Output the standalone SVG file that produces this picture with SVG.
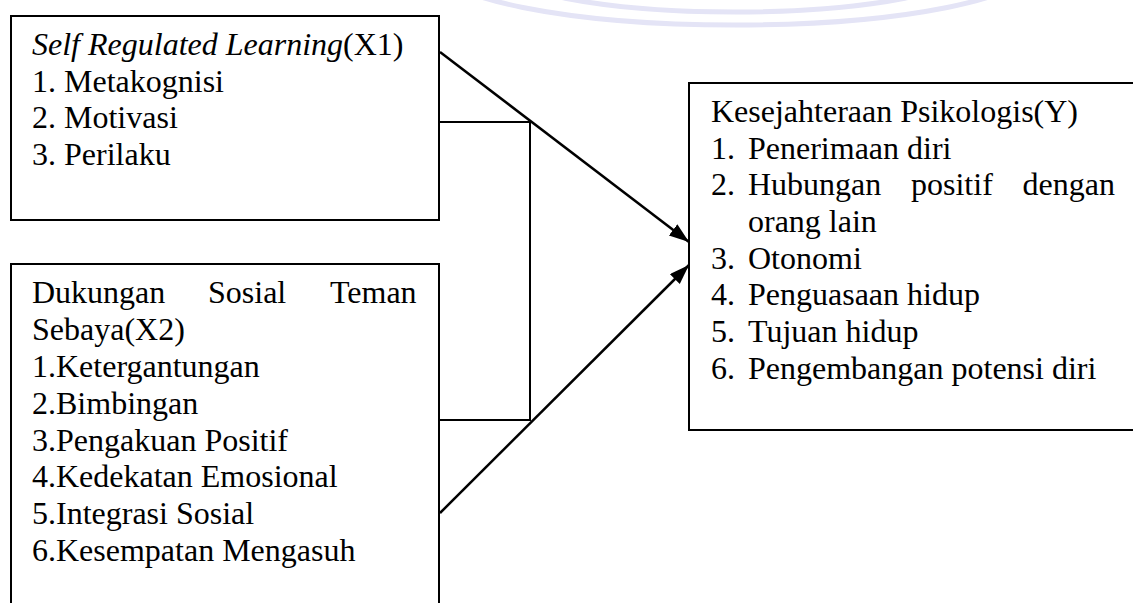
<svg xmlns="http://www.w3.org/2000/svg" width="1133" height="603" viewBox="0 0 1133 603">
  <style>
    .box { fill: #ffffff; stroke: #000000; stroke-width: 2; }
    .t { font-size: 32px; fill: #000000; }
    .it { font-style: italic; }
    .conn { fill: none; stroke: #000000; stroke-width: 2.5; }
    .brk { fill: none; stroke: #000000; stroke-width: 2; }
    .wm { fill: none; stroke: #e4e4f6; stroke-width: 5; }
  </style>
  <defs>
    <marker id="arrow" markerUnits="userSpaceOnUse" markerWidth="22" markerHeight="16" refX="20" refY="7" orient="auto">
      <path d="M0,0 L20,7 L0,14 Z" fill="#000000"/>
    </marker>
  </defs>
  <rect width="1133" height="603" fill="#ffffff"/>
  <g id="watermark">
    <ellipse class="wm" cx="735" cy="-35" rx="300" ry="60"/>
    <ellipse class="wm" cx="735" cy="-35" rx="240" ry="47" stroke-width="4"/>
  </g>
  <g font-family="Liberation Serif, Times New Roman, DejaVu Serif, serif">
  <g id="node-x1">
    <rect class="box" x="11" y="16" width="428" height="204"/>
    <text class="t" x="32" y="55"><tspan class="it">Self Regulated Learning</tspan>(X1)</text>
    <text class="t" x="32" y="92">1. Metakognisi</text>
    <text class="t" x="32" y="128">2. Motivasi</text>
    <text class="t" x="32" y="165">3. Perilaku</text>
  </g>
  <g id="node-x2">
    <rect class="box" x="11" y="264" width="428" height="360"/>
    <text class="t" x="32" y="303">Dukungan</text>
    <text class="t" x="208" y="303">Sosial</text>
    <text class="t" x="330" y="303">Teman</text>
    <text class="t" x="32" y="340">Sebaya(X2)</text>
    <text class="t" x="32" y="377">1.Ketergantungan</text>
    <text class="t" x="32" y="414">2.Bimbingan</text>
    <text class="t" x="32" y="451">3.Pengakuan Positif</text>
    <text class="t" x="32" y="487">4.Kedekatan Emosional</text>
    <text class="t" x="32" y="524">5.Integrasi Sosial</text>
    <text class="t" x="32" y="561">6.Kesempatan Mengasuh</text>
  </g>
  <g id="node-y">
    <rect class="box" x="689" y="83" width="460" height="347"/>
    <text class="t" x="711" y="122">Kesejahteraan Psikologis(Y)</text>
    <text class="t" x="711" y="159">1.</text>
    <text class="t" x="748" y="159">Penerimaan diri</text>
    <text class="t" x="711" y="195">2.</text>
    <text class="t" x="748" y="195">Hubungan</text>
    <text class="t" x="911" y="195">positif</text>
    <text class="t" x="1115" y="195" text-anchor="end">dengan</text>
    <text class="t" x="748" y="232">orang lain</text>
    <text class="t" x="711" y="269">3.</text>
    <text class="t" x="748" y="269">Otonomi</text>
    <text class="t" x="711" y="305">4.</text>
    <text class="t" x="748" y="305">Penguasaan hidup</text>
    <text class="t" x="711" y="342">5.</text>
    <text class="t" x="748" y="342">Tujuan hidup</text>
    <text class="t" x="711" y="379">6.</text>
    <text class="t" x="748" y="379">Pengembangan potensi diri</text>
  </g>
  </g>
  <g id="connectors">
    <path class="brk" d="M 439 122 H 530 V 420 H 439"/>
    <path class="conn" d="M 440 52 L 689 242" marker-end="url(#arrow)"/>
    <path class="conn" d="M 440 513 L 689 265" marker-end="url(#arrow)"/>
  </g>
</svg>
